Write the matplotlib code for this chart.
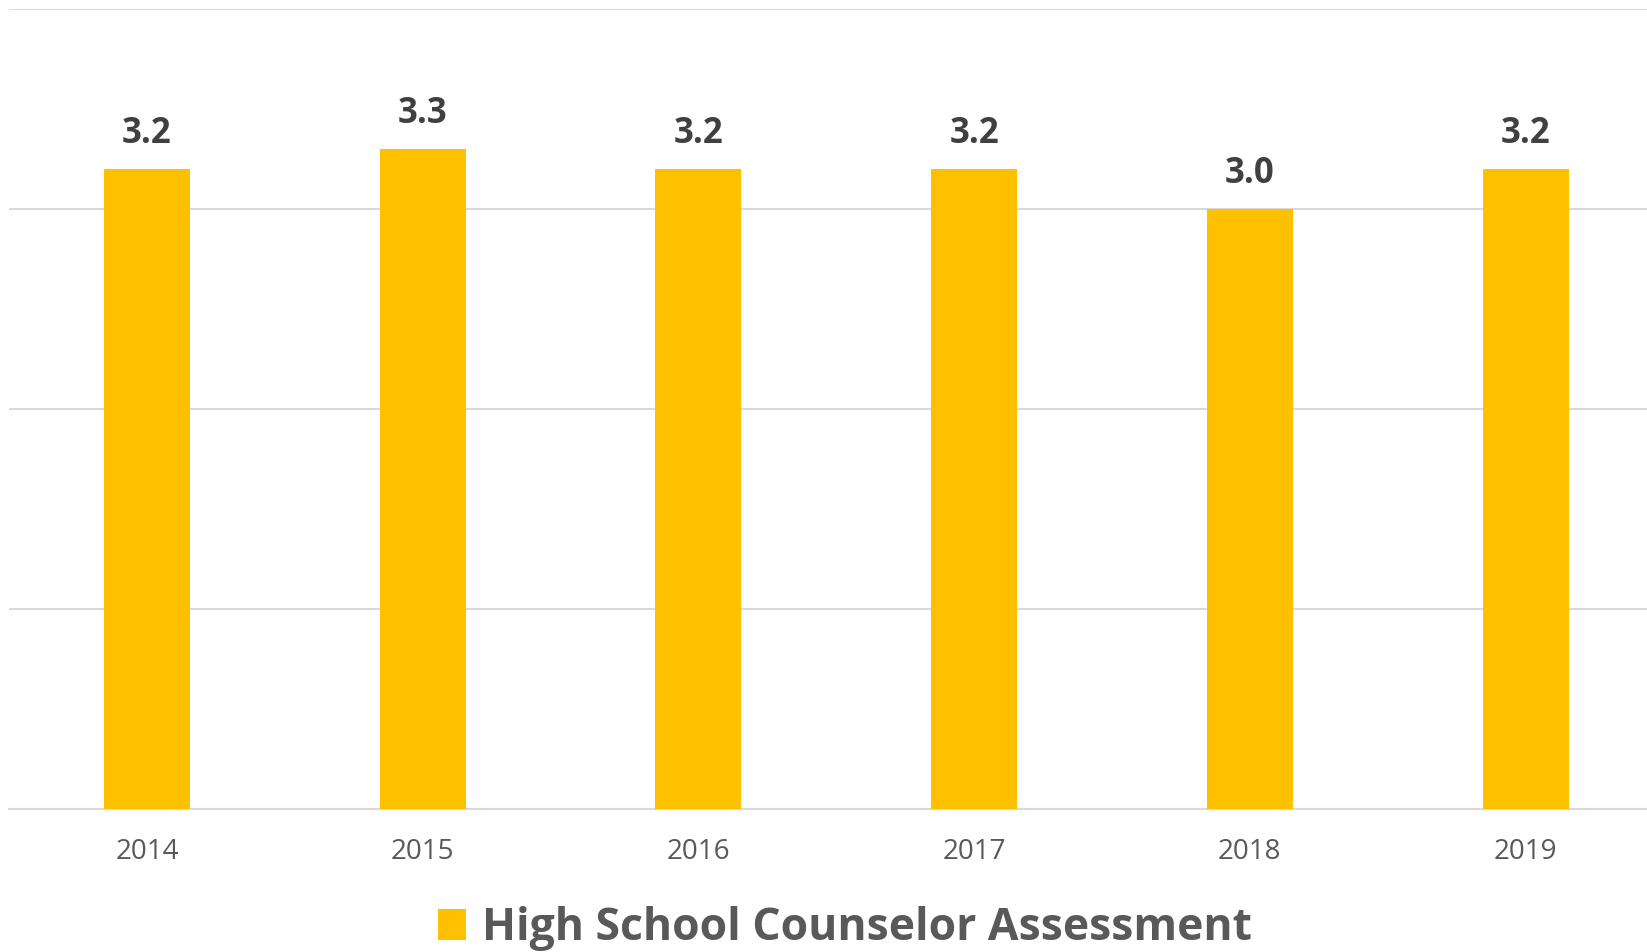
import matplotlib
matplotlib.use('Agg')
import matplotlib.pyplot as plt
import numpy as np

# chart data
years = ['2014', '2015', '2016', '2017', '2018', '2019']
scores = [3.2, 3.3, 3.2, 3.2, 3.0, 3.2]
series_name = 'High School Counselor Assessment'

plt.rcParams['font.family'] = ['Open Sans', 'DejaVu Sans']

fig = plt.figure(figsize=(16.47, 9.52), dpi=100)
# plot area runs a little past the right edge, like the original export
ax = fig.add_axes([0.0055, 0.150, 1.0045, 0.841])

x = np.arange(len(years))
bars = ax.bar(x, scores, width=0.312, color='#FFC000', label=series_name, zorder=3)

for xi, v in zip(x, scores):
    ax.annotate(f'{v:.1f}', (xi, v), xytext=(0, 12), textcoords='offset points',
                ha='center', va='bottom', fontsize=25, fontweight='bold', color='#404040')

ax.set_xlim(-0.5, len(years) - 0.5)
ax.set_ylim(0, 4)
ax.set_yticks([0, 1, 2, 3, 4])
ax.yaxis.grid(True, color='#D9D9D9', linewidth=1.5, zorder=0)
ax.tick_params(axis='y', left=False, labelleft=False)
ax.set_xticks(x)
ax.set_xticklabels(years, fontsize=20, color='#595959')
ax.tick_params(axis='x', length=0, pad=21)
for side in ['top', 'right', 'left']:
    ax.spines[side].set_visible(False)
ax.spines['bottom'].set_color('#D9D9D9')
ax.spines['bottom'].set_linewidth(1.5)

fig.legend(handles=[bars], labels=[series_name], loc='center', bbox_to_anchor=(0.513, 0.025),
           frameon=False, handlelength=0.62, handleheight=0.7, handletextpad=0.35,
           prop={'size': 32, 'weight': 'bold'}, labelcolor='#595959')

fig.savefig('out.png', dpi=100)
